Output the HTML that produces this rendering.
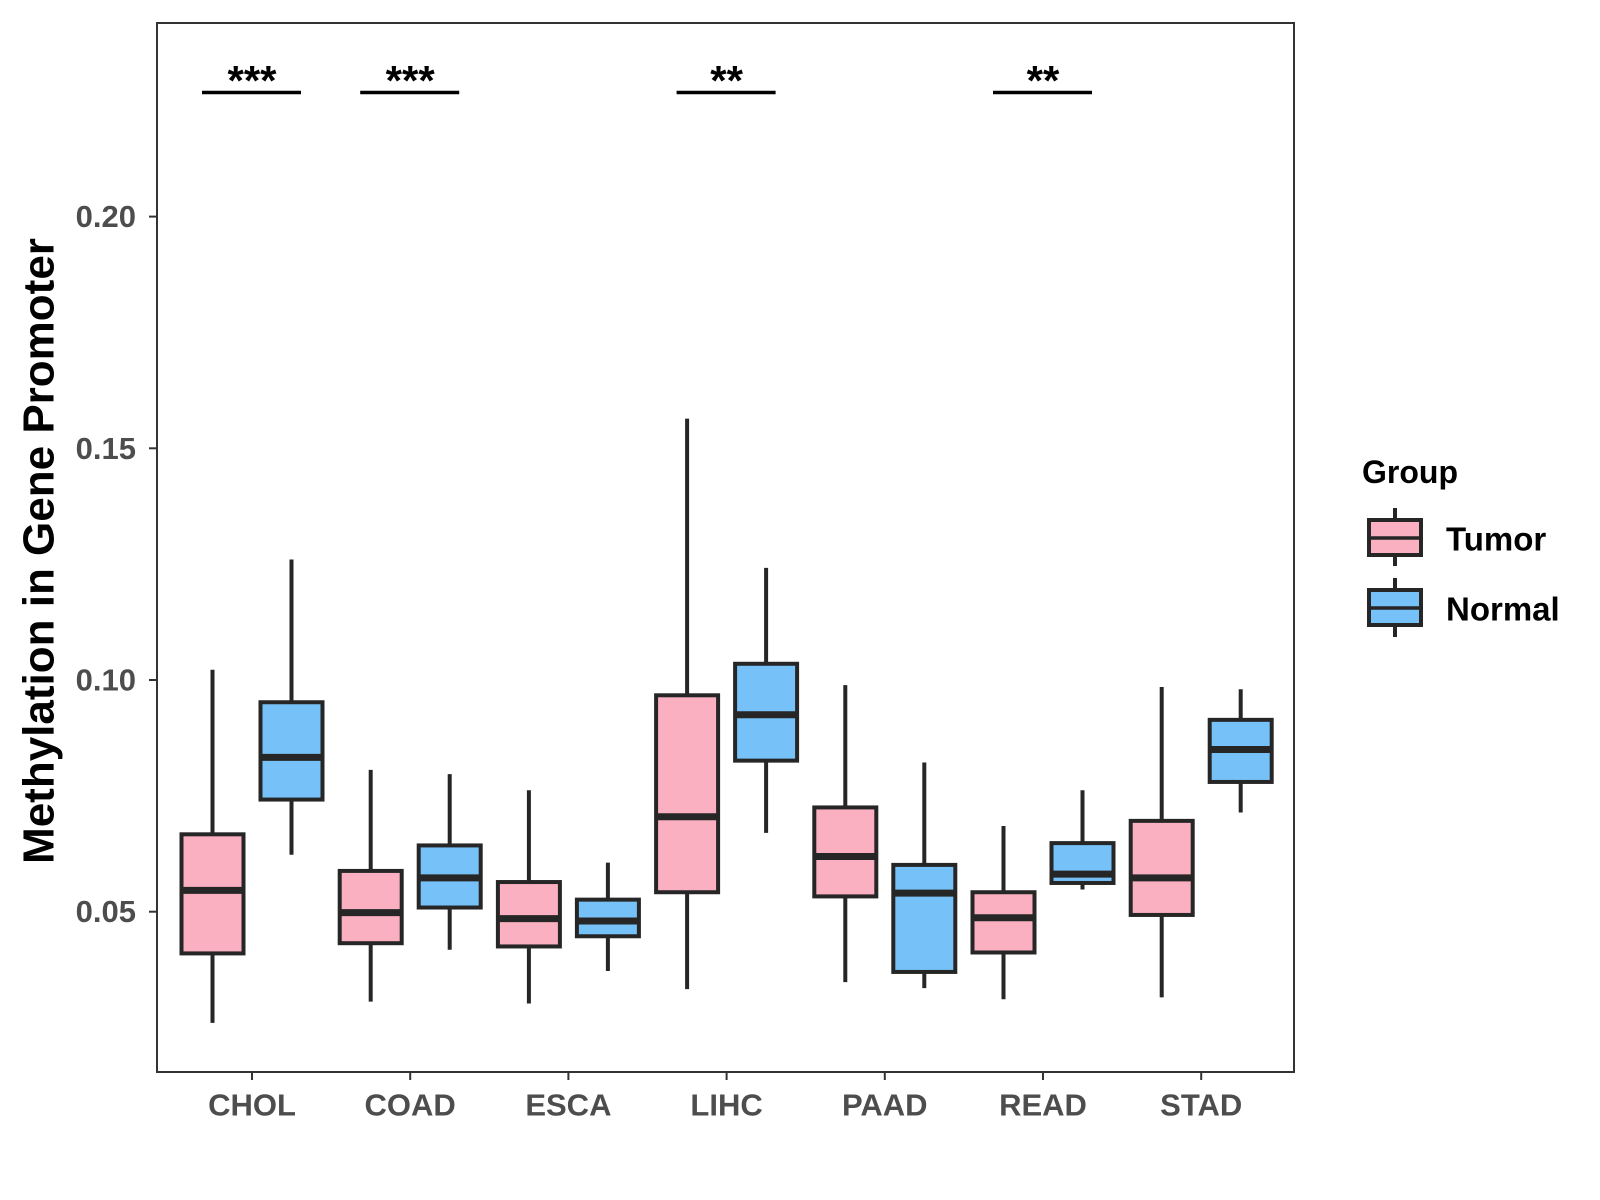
<!DOCTYPE html>
<html><head><meta charset="utf-8"><style>
html,body{margin:0;padding:0;background:#fff;}
svg{display:block;font-family:"Liberation Sans",Arial,sans-serif;font-weight:bold;}
</style></head><body>
<svg id="chart" width="1600" height="1200" viewBox="0 0 1600 1200">
<rect x="0" y="0" width="1600" height="1200" fill="#fff"/>
<g id="marks"></g>
<rect x="157" y="23" width="1137" height="1049" fill="none" stroke="#333" stroke-width="2"/>
<g id="axes"></g>
<text x="39" y="551" transform="rotate(-90 39 551)" text-anchor="middle" dominant-baseline="central" font-size="44" fill="#000">Methylation in Gene Promoter</text>
<g>
<text x="1362" y="483" font-size="32" fill="#000">Group</text>
<g>
<line x1="1395" y1="508" x2="1395" y2="566" stroke="#262626" stroke-width="4"/>
<rect x="1369" y="520" width="52" height="35" fill="#fbb0c1" stroke="#262626" stroke-width="4"/>
<line x1="1369" y1="538" x2="1421" y2="538" stroke="#262626" stroke-width="3.5"/>
<text x="1446" y="539" dominant-baseline="central" font-size="33" fill="#000">Tumor</text>
</g>
<g>
<line x1="1395" y1="578" x2="1395" y2="637" stroke="#262626" stroke-width="4"/>
<rect x="1369" y="590" width="52" height="35" fill="#76c1f7" stroke="#262626" stroke-width="4"/>
<line x1="1369" y1="608" x2="1421" y2="608" stroke="#262626" stroke-width="3.5"/>
<text x="1446" y="609" dominant-baseline="central" font-size="33" fill="#000">Normal</text>
</g>
</g>
</svg>
<script>
const categories = ["CHOL","COAD","ESCA","LIHC","PAAD","READ","STAD"];
const tumorStats = [
 [0.026,0.0410,0.0546,0.0667,0.1022],
 [0.0306,0.0432,0.0498,0.0588,0.0806],
 [0.0302,0.0425,0.0485,0.0564,0.0762],
 [0.0333,0.0542,0.0705,0.0967,0.1564],
 [0.0348,0.0533,0.0619,0.0725,0.0989],
 [0.0311,0.0412,0.0487,0.0542,0.0685],
 [0.0315,0.0493,0.0573,0.0696,0.0985]
];
const normalStats = [
 [0.0623,0.0742,0.0833,0.0952,0.126],
 [0.0418,0.0509,0.0573,0.0643,0.0797],
 [0.0372,0.0447,0.048,0.0526,0.0606],
 [0.067,0.0826,0.0925,0.1035,0.1242],
 [0.0335,0.037,0.054,0.0601,0.0822],
 [0.0548,0.0562,0.0581,0.0648,0.0762],
 [0.0714,0.078,0.085,0.0914,0.098]
];
const yTicks = [0.05,0.10,0.15,0.20];
const yTickLabels = ["0.05","0.10","0.15","0.20"];
const sigLabels = ["***","***","","**","","**",""];

const NS="http://www.w3.org/2000/svg";
function yScale(v){ return 911.7 - (v-0.05)*(231.7/0.05); }
function xScale(i){ return 252 + i*158.2; }
function mk(tag, attrs, parent){ const e=document.createElementNS(NS,tag); for(const k in attrs) e.setAttribute(k,attrs[k]); parent.appendChild(e); return e; }
const marks=document.getElementById('marks');
const axes=document.getElementById('axes');
const off=39.5, bw=62;
function drawBox(cx, s, fill, name){
  const g=mk('g',{},marks);
  
  
  mk('line',{x1:cx,x2:cx,y1:yScale(s[4]),y2:yScale(s[0]),stroke:'#262626','stroke-width':4},g);
  mk('rect',{x:cx-bw/2,y:yScale(s[3]),width:bw,height:yScale(s[1])-yScale(s[3]),fill:fill,stroke:'#262626','stroke-width':4},g);
  mk('line',{x1:cx-bw/2,x2:cx+bw/2,y1:yScale(s[2]),y2:yScale(s[2]),stroke:'#262626','stroke-width':7},g);
}
categories.forEach((c,i)=>{
  const cx=xScale(i);
  drawBox(cx-off, tumorStats[i], '#fbb0c1', 'box-tumor-'+c.toLowerCase());
  drawBox(cx+off, normalStats[i], '#76c1f7', 'box-normal-'+c.toLowerCase());
  if(sigLabels[i]){
    const l=mk('line',{x1:cx-50,x2:cx+49,y1:92.5,y2:92.5,stroke:'#000','stroke-width':3.5},marks);
    
    
    const t=mk('text',{x:cx,y:95,'text-anchor':'middle','font-size':42,fill:'#000'},marks);
    t.textContent=sigLabels[i];
    
    
  }
  const tk=mk('line',{x1:cx,x2:cx,y1:1072,y2:1080,stroke:'#333','stroke-width':2},axes);
  
  
  const lb=mk('text',{x:cx,y:1105,'text-anchor':'middle','dominant-baseline':'central','font-size':31,fill:'#4d4d4d'},axes);
  lb.textContent=c;
  
  
});
yTicks.forEach((v,i)=>{
  const y=yScale(v);
  const tk=mk('line',{x1:149,x2:157,y1:y,y2:y,stroke:'#333','stroke-width':2},axes);
  
  
  const lb=mk('text',{x:136,y:y,'text-anchor':'end','dominant-baseline':'central','font-size':31,fill:'#4d4d4d'},axes);
  lb.textContent=yTickLabels[i];
  
  
});
</script>
</body></html>
